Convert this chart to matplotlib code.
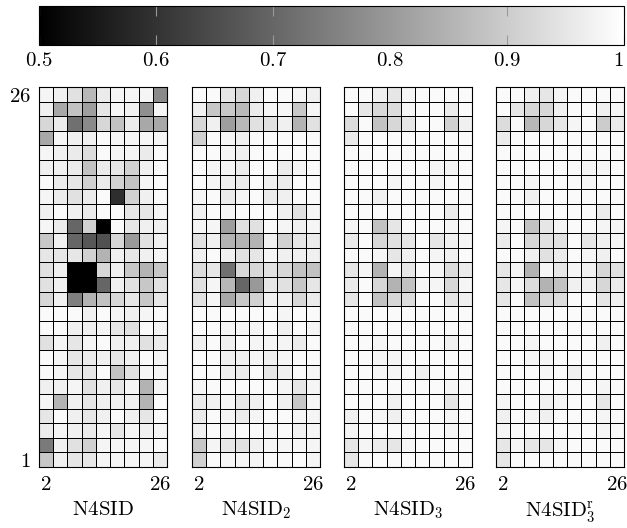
import numpy as np
import matplotlib
matplotlib.use("Agg")
import matplotlib.pyplot as plt

plt.rcParams['mathtext.fontset'] = 'cm'
plt.rcParams['font.family'] = 'serif'
plt.rcParams['font.size'] = 15

# columns (lags) and rows, data rows listed from the top (26) down to 1
cols = [2, 5, 8, 11, 14, 17, 20, 23, 26]
rows = list(range(1, 27))
titles = [r'$\mathrm{N4SID}$', r'$\mathrm{N4SID}_2$', r'$\mathrm{N4SID}_3$', r'$\mathrm{N4SID}_3^\mathrm{r}$']

n4sid = [
    [0.98, 0.97, 0.94, 0.86, 0.96, 0.98, 0.98, 0.98, 0.77],
    [0.97, 0.83, 0.88, 0.81, 0.95, 0.98, 0.97, 0.78, 0.98],
    [0.92, 0.96, 0.72, 0.77, 0.92, 0.88, 0.96, 0.83, 0.83],
    [0.83, 0.98, 0.97, 0.97, 0.99, 0.98, 0.98, 0.98, 0.98],
    [0.98, 0.97, 0.96, 0.93, 0.99, 0.98, 0.98, 0.96, 0.99],
    [0.97, 0.97, 0.96, 0.88, 0.96, 0.95, 0.91, 0.97, 0.99],
    [0.99, 0.96, 0.95, 0.91, 0.96, 0.91, 0.88, 0.98, 0.99],
    [0.98, 0.96, 0.94, 0.96, 0.99, 0.59, 0.91, 0.97, 0.99],
    [0.97, 0.99, 0.97, 0.96, 0.99, 0.99, 0.95, 0.95, 0.98],
    [0.98, 0.96, 0.70, 0.91, 0.48, 0.99, 0.95, 0.97, 0.97],
    [0.89, 0.97, 0.70, 0.67, 0.66, 0.92, 0.80, 0.94, 0.97],
    [0.95, 0.95, 0.95, 0.91, 0.85, 0.97, 0.95, 0.97, 0.98],
    [0.94, 0.97, 0.45, 0.45, 0.92, 0.97, 0.89, 0.85, 0.89],
    [0.94, 0.97, 0.45, 0.50, 0.70, 0.97, 0.94, 0.89, 0.94],
    [0.92, 0.97, 0.75, 0.85, 0.88, 0.92, 0.95, 0.89, 0.95],
    [0.99, 0.99, 0.99, 0.97, 0.99, 0.98, 0.97, 0.98, 0.99],
    [0.99, 0.99, 0.97, 0.97, 0.98, 0.95, 0.94, 0.99, 0.98],
    [0.94, 0.98, 0.95, 0.98, 0.99, 0.97, 0.97, 0.94, 0.96],
    [0.99, 0.98, 0.95, 0.96, 0.97, 0.95, 0.97, 0.99, 0.98],
    [0.99, 0.98, 0.95, 0.95, 0.99, 0.88, 0.94, 0.98, 0.98],
    [0.97, 0.97, 0.98, 0.94, 0.97, 0.95, 0.98, 0.85, 0.98],
    [0.98, 0.85, 0.97, 0.95, 0.97, 0.97, 0.97, 0.85, 0.99],
    [0.95, 0.99, 0.97, 0.95, 0.97, 0.99, 0.97, 0.95, 0.99],
    [0.96, 0.98, 0.97, 0.96, 0.98, 0.95, 0.98, 0.97, 0.98],
    [0.74, 0.97, 0.94, 0.91, 0.98, 0.98, 0.98, 0.98, 0.99],
    [0.89, 0.97, 0.95, 0.95, 0.98, 0.98, 0.98, 0.98, 0.96],
]

n4sid_2 = [
    [0.99, 0.99, 0.95, 0.92, 0.97, 0.99, 0.99, 0.98, 0.97],
    [0.97, 0.89, 0.89, 0.86, 0.96, 0.98, 0.98, 0.89, 0.98],
    [0.92, 0.97, 0.81, 0.86, 0.94, 0.94, 0.97, 0.85, 0.94],
    [0.91, 0.99, 0.98, 0.97, 0.99, 0.99, 0.99, 0.99, 0.99],
    [0.99, 0.99, 0.98, 0.97, 0.99, 0.99, 0.99, 0.99, 0.99],
    [0.99, 0.98, 0.98, 0.96, 0.99, 0.99, 0.96, 0.98, 0.99],
    [0.99, 0.98, 0.97, 0.96, 0.99, 0.97, 0.96, 0.99, 0.99],
    [0.98, 0.99, 0.96, 0.98, 0.99, 0.96, 0.97, 0.99, 0.99],
    [0.97, 0.99, 0.98, 0.99, 0.99, 0.99, 0.97, 0.94, 0.98],
    [0.98, 0.98, 0.81, 0.94, 0.94, 0.99, 0.98, 0.97, 0.98],
    [0.94, 0.97, 0.85, 0.85, 0.85, 0.97, 0.91, 0.95, 0.96],
    [0.97, 0.99, 0.97, 0.94, 0.95, 0.98, 0.97, 0.97, 0.97],
    [0.93, 0.95, 0.72, 0.92, 0.92, 0.94, 0.92, 0.88, 0.88],
    [0.94, 0.98, 0.86, 0.70, 0.80, 0.95, 0.94, 0.89, 0.95],
    [0.94, 0.98, 0.83, 0.89, 0.91, 0.97, 0.97, 0.92, 0.96],
    [0.99, 0.99, 0.99, 0.99, 0.99, 0.99, 0.98, 0.99, 0.99],
    [0.99, 0.99, 0.98, 0.98, 0.98, 0.99, 0.97, 0.99, 0.98],
    [0.97, 0.99, 0.97, 0.99, 0.98, 0.98, 0.98, 0.96, 0.99],
    [0.99, 0.99, 0.97, 0.97, 0.98, 0.97, 0.98, 0.99, 0.99],
    [0.99, 0.99, 0.97, 0.96, 0.99, 0.95, 0.97, 0.99, 0.98],
    [0.98, 0.99, 0.99, 0.99, 0.99, 0.99, 0.98, 0.95, 0.98],
    [0.96, 0.97, 0.98, 0.95, 0.97, 0.99, 0.97, 0.89, 0.98],
    [0.96, 0.99, 0.98, 0.96, 0.98, 0.99, 0.99, 0.98, 0.98],
    [0.97, 0.99, 0.98, 0.99, 0.99, 0.98, 0.99, 0.97, 0.98],
    [0.89, 0.98, 0.95, 0.94, 0.97, 0.98, 0.98, 0.98, 0.98],
    [0.91, 0.99, 0.98, 0.98, 0.98, 0.99, 0.99, 0.99, 0.98],
]

n4sid_3 = [
    [0.99, 0.99, 0.97, 0.95, 0.98, 0.99, 0.99, 0.99, 0.99],
    [0.99, 0.95, 0.92, 0.93, 0.98, 0.99, 0.99, 0.96, 0.99],
    [0.93, 0.99, 0.88, 0.92, 0.95, 0.99, 0.99, 0.91, 0.97],
    [0.96, 0.99, 0.99, 0.99, 0.99, 0.99, 0.99, 0.99, 0.99],
    [0.99, 0.99, 0.99, 0.99, 0.99, 0.99, 0.99, 0.99, 0.99],
    [0.99, 0.99, 0.99, 0.99, 0.99, 0.99, 0.98, 0.98, 0.99],
    [0.99, 0.99, 0.99, 0.98, 0.99, 0.99, 0.98, 0.99, 0.99],
    [0.99, 0.99, 0.97, 0.99, 0.99, 0.99, 0.99, 0.99, 0.99],
    [0.99, 0.99, 0.99, 0.99, 0.99, 0.99, 0.99, 0.96, 0.99],
    [0.98, 0.99, 0.88, 0.95, 0.99, 0.99, 0.99, 0.98, 0.99],
    [0.96, 0.99, 0.92, 0.94, 0.95, 0.99, 0.95, 0.97, 0.98],
    [0.99, 0.99, 0.98, 0.95, 0.97, 0.99, 0.98, 0.97, 0.99],
    [0.95, 0.98, 0.85, 0.98, 0.95, 0.99, 0.98, 0.93, 0.96],
    [0.96, 0.99, 0.92, 0.85, 0.88, 0.98, 0.98, 0.92, 0.98],
    [0.95, 0.99, 0.88, 0.92, 0.93, 0.99, 0.99, 0.95, 0.97],
    [0.99, 0.99, 0.99, 0.99, 0.99, 0.99, 0.99, 0.99, 0.99],
    [0.99, 0.99, 0.99, 0.99, 0.99, 0.99, 0.99, 0.99, 0.99],
    [0.99, 0.99, 0.98, 0.99, 0.99, 0.99, 0.99, 0.97, 0.99],
    [0.99, 0.99, 0.98, 0.98, 0.99, 0.99, 0.99, 0.99, 0.99],
    [0.99, 0.99, 0.98, 0.98, 0.99, 0.97, 0.99, 0.99, 0.99],
    [0.99, 0.99, 0.99, 0.99, 0.99, 0.99, 0.99, 0.98, 0.99],
    [0.99, 0.99, 0.99, 0.97, 0.99, 0.99, 0.99, 0.95, 0.99],
    [0.97, 0.99, 0.98, 0.97, 0.99, 0.99, 0.99, 0.98, 0.99],
    [0.98, 0.99, 0.99, 0.99, 0.99, 0.99, 0.99, 0.98, 0.99],
    [0.95, 0.98, 0.96, 0.95, 0.98, 0.99, 0.99, 0.99, 0.99],
    [0.95, 0.99, 0.99, 0.99, 0.99, 0.99, 0.99, 0.99, 0.99],
]

n4sid_3r = [
    [0.99, 0.99, 0.97, 0.95, 0.98, 0.99, 0.99, 0.99, 0.99],
    [0.99, 0.95, 0.92, 0.92, 0.97, 0.99, 0.99, 0.97, 0.98],
    [0.93, 0.99, 0.86, 0.92, 0.95, 0.98, 0.99, 0.90, 0.96],
    [0.96, 0.99, 0.99, 0.99, 0.99, 0.99, 0.99, 0.99, 0.99],
    [0.99, 0.99, 0.99, 0.99, 0.99, 0.99, 0.99, 0.99, 0.99],
    [0.99, 0.99, 0.99, 0.99, 0.99, 0.99, 0.98, 0.98, 0.99],
    [0.99, 0.99, 0.98, 0.99, 0.99, 0.99, 0.98, 0.99, 0.99],
    [0.99, 0.99, 0.97, 0.99, 0.99, 0.99, 0.99, 0.99, 0.99],
    [0.99, 0.99, 0.99, 0.99, 0.99, 0.99, 0.99, 0.96, 0.99],
    [0.98, 0.99, 0.88, 0.95, 0.98, 0.99, 0.99, 0.98, 0.98],
    [0.96, 0.99, 0.92, 0.94, 0.94, 0.99, 0.95, 0.97, 0.98],
    [0.99, 0.99, 0.97, 0.94, 0.96, 0.99, 0.98, 0.97, 0.99],
    [0.95, 0.98, 0.85, 0.98, 0.95, 0.98, 0.97, 0.92, 0.94],
    [0.95, 0.98, 0.93, 0.85, 0.88, 0.97, 0.97, 0.92, 0.96],
    [0.95, 0.99, 0.88, 0.92, 0.93, 0.99, 0.99, 0.95, 0.97],
    [0.99, 0.99, 0.99, 0.99, 0.99, 0.99, 0.99, 0.99, 0.99],
    [0.99, 0.99, 0.99, 0.99, 0.99, 0.99, 0.99, 0.99, 0.99],
    [0.99, 0.99, 0.98, 0.99, 0.99, 0.99, 0.99, 0.97, 0.99],
    [0.99, 0.99, 0.98, 0.98, 0.99, 0.99, 0.99, 0.99, 0.99],
    [0.99, 0.99, 0.99, 0.98, 0.99, 0.97, 0.99, 0.99, 0.99],
    [0.99, 0.99, 0.99, 0.99, 0.99, 0.99, 0.99, 0.98, 0.99],
    [0.98, 0.99, 0.99, 0.97, 0.98, 0.99, 0.99, 0.95, 0.99],
    [0.97, 0.99, 0.98, 0.97, 0.99, 0.99, 0.99, 0.98, 0.99],
    [0.98, 0.99, 0.99, 0.99, 0.99, 0.99, 0.99, 0.98, 0.99],
    [0.95, 0.98, 0.95, 0.95, 0.98, 0.99, 0.99, 0.99, 0.99],
    [0.95, 0.99, 0.99, 0.99, 0.99, 0.99, 0.99, 0.99, 0.99],
]

cbar_ticks = [0.5, 0.6, 0.7, 0.8, 0.9, 1.0]
cbar_labels = ['0.5', '0.6', '0.7', '0.8', '0.9', '1']

fig = plt.figure(figsize=(6.27, 5.28), dpi=100)

x_edges = np.arange(0.5, 28, 3)
y_edges = np.arange(0.5, 27, 1)

lefts = [0.0622, 0.3062, 0.5486, 0.7911]
mesh = None
for k, (data, title) in enumerate(zip([n4sid, n4sid_2, n4sid_3, n4sid_3r], titles)):
    ax = fig.add_axes([lefts[k], 0.1155, 0.2042, 0.7197])
    Z = np.flipud(np.array(data))
    mesh = ax.pcolormesh(x_edges, y_edges, Z, cmap='gray', vmin=0.5, vmax=1.0,
                         edgecolors='k', linewidth=0.55)
    ax.set_xlim(x_edges[0], x_edges[-1])
    ax.set_ylim(y_edges[0], y_edges[-1])
    ax.set_xticks([cols[0], cols[-1]])
    ax.set_xticklabels(['$%d$' % cols[0], '$%d$' % cols[-1]])
    if k == 0:
        ax.set_yticks([rows[0], rows[-1]])
        ax.set_yticklabels(['$%d$' % rows[0], '$%d$' % rows[-1]])
    else:
        ax.set_yticks([])
    ax.tick_params(axis='x', length=0, pad=6, labelsize=15)
    ax.tick_params(axis='y', length=0, pad=6, labelsize=15)
    ax.set_xlabel(title, fontsize=15, labelpad=4)
    for s in ax.spines.values():
        s.set_linewidth(0.8)

cax = fig.add_axes([0.0622, 0.9148, 0.9330, 0.0739])
cb = fig.colorbar(mesh, cax=cax, orientation='horizontal', ticks=cbar_ticks)
cb.ax.set_xticklabels(['$%s$' % t for t in cbar_labels])
cb.ax.get_xticklabels()[-1].set_horizontalalignment('right')
cb.ax.tick_params(direction='in', length=7, color='#999999', width=0.8,
                  top=True, bottom=True, labelsize=15, pad=4)
cb.outline.set_linewidth(0.8)

plt.savefig('out.png', dpi=100)
